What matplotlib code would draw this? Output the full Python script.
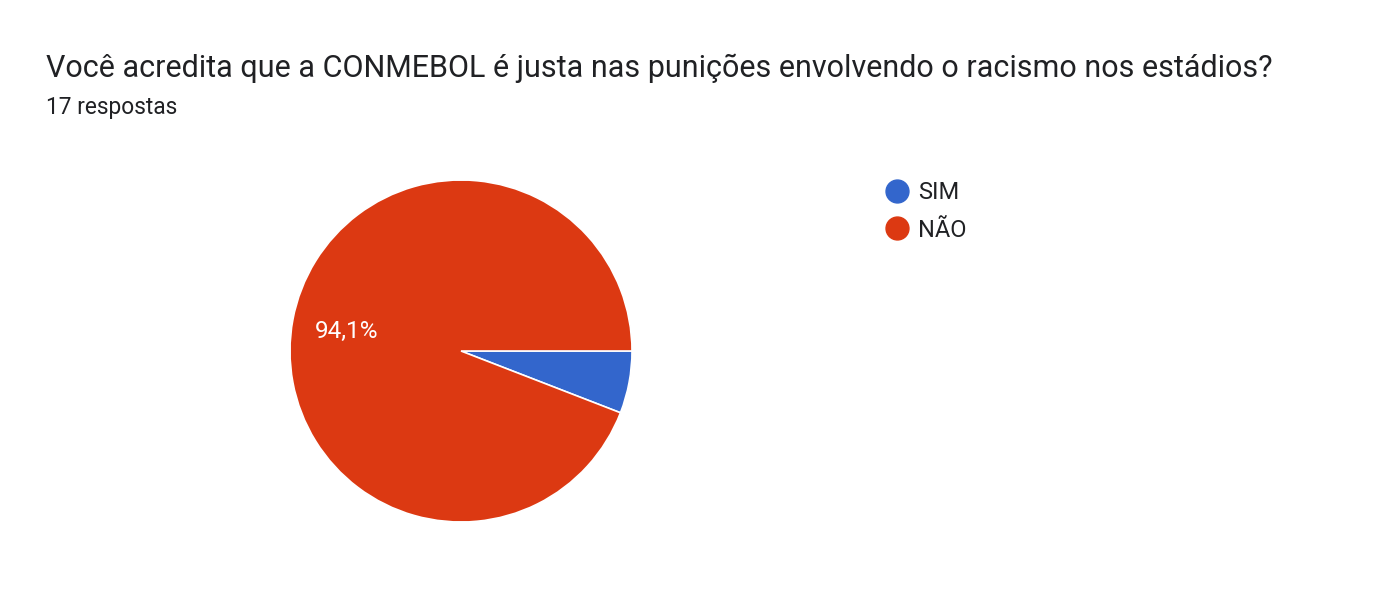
import matplotlib
matplotlib.use("Agg")
import matplotlib.pyplot as plt
from matplotlib.lines import Line2D

plt.rcParams['font.family'] = ['Roboto', 'DejaVu Sans']

title = "Você acredita que a CONMEBOL é justa nas punições envolvendo o racismo nos estádios?"
subtitle = "17 respostas"
categories = ["SIM", "NÃO"]
values = [1, 16]
colors = ["#3366CC", "#DC3912"]

W, H = 1400, 589
fig = plt.figure(figsize=(W / 100, H / 100), dpi=100)
fig.patch.set_facecolor("white")

fig.text(46 / W, 1 - 77 / H, title, fontsize=22, color="#202124", ha="left", va="baseline")
fig.text(46 / W, 1 - 114 / H, subtitle, fontsize=16.4, color="#202124", ha="left", va="baseline")

cx, cy, r = 461, 351, 171
ax = fig.add_axes([(cx - r) / W, (H - cy - r) / H, 2 * r / W, 2 * r / H])
total = sum(values)
wedges, _ = ax.pie(values, colors=colors, startangle=0, counterclock=False, radius=1,
                   wedgeprops=dict(edgecolor="white", linewidth=1.2))
ax.set_xlim(-1, 1)
ax.set_ylim(-1, 1)
ax.set_aspect("equal")
ax.axis("off")

pct = values[1] / total * 100
lbl = f"{pct:.1f}%".replace(".", ",")
ax.text((347 - cx) / r, -(331 - cy) / r, lbl, color="white", fontsize=17.5,
        ha="center", va="center")

handles = [Line2D([0], [0], marker="o", linestyle="", markersize=16.5,
                  markerfacecolor=c, markeredgecolor=c) for c in colors]
leg = fig.legend(handles, categories, loc="upper left",
                 bbox_to_anchor=(883 / W, 1 - 181 / H), frameon=False,
                 fontsize=17, handletextpad=0.3, labelspacing=0.62,
                 handlelength=1.2, borderaxespad=0, borderpad=0)
for t in leg.get_texts():
    t.set_color("#202124")

fig.savefig("out.png", dpi=100, facecolor="white")
